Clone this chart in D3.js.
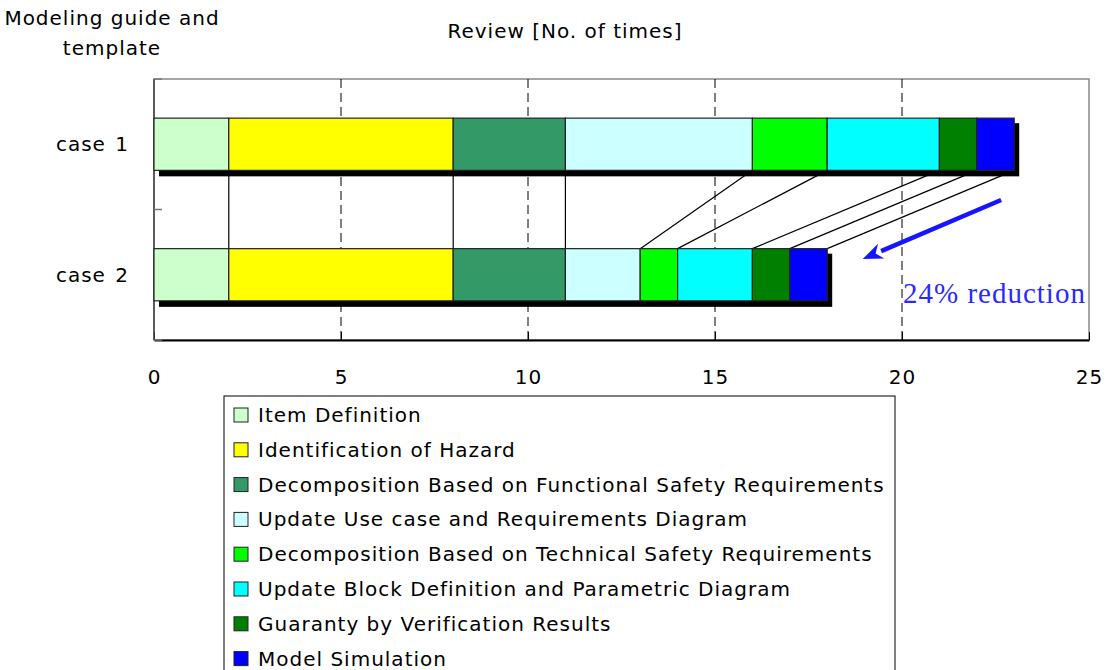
<!DOCTYPE html>
<html>
<head>
<meta charset="utf-8">
<script src="https://cdn.jsdelivr.net/npm/d3@7"></script>
<style>
  body { margin: 0; background: #fff; }
  svg text { font-family: "DejaVu Sans", sans-serif; fill: #000; letter-spacing: 1px; }
</style>
</head>
<body>
<svg id="chart"></svg>
<script>
// Review counts per step, two cases
const cases = ["case 1", "case 2"];
const steps = [
    "Item Definition",
    "Identification of Hazard",
    "Decomposition Based on Functional Safety Requirements",
    "Update Use case and Requirements Diagram",
    "Decomposition Based on Technical Safety Requirements",
    "Update Block Definition and Parametric Diagram",
    "Guaranty by Verification Results",
    "Model Simulation"
];
const case1 = [2, 6, 3, 5, 2, 3, 1, 1];
const case2 = [2, 6, 3, 2, 1, 2, 1, 1];
const stepColors = ["#CCFFCC", "#FFFF00", "#339966", "#CCFFFF", "#00FF00", "#00FFFF", "#008000", "#0000FF"];
const xTicks = [0, 5, 10, 15, 20, 25];

const width = 1107,
    height = 670;

const svg = d3.select("#chart")
    .attr("width", width)
    .attr("height", height);

const x = d3.scaleLinear().domain([0, 25]).range([154, 1089]);
const y = d3.scaleBand().domain(cases).range([79, 340]).paddingInner(0.6).paddingOuter(0.3);
const yBand = d3.scaleBand().domain(cases).range([79, 340]);

// stack the values
function stackUp(vals) {
    let acc = 0;
    return vals.map((v, i) => {
        const s = { step: i, x0: acc, x1: acc + v };
        acc += v;
        return s;
    });
}
const rows = [stackUp(case1), stackUp(case2)];

// plot frame
svg.append("rect")
    .attr("x", x(0)).attr("y", 79)
    .attr("width", x(25) - x(0)).attr("height", 340 - 79)
    .attr("fill", "none").attr("stroke", "#888").attr("stroke-width", 1.5);

// dashed grid
svg.selectAll(".grid")
    .data(xTicks.slice(1, -1))
    .enter()
    .append("line")
    .attr("x1", d => x(d)).attr("x2", d => x(d))
    .attr("y1", 79).attr("y2", 340)
    .attr("stroke", "#000").attr("stroke-width", 1)
    .attr("stroke-dasharray", "9,5");

// x axis
const xAxis = svg.append("g")
    .attr("transform", "translate(0,340)")
    .call(d3.axisBottom(x).tickValues(xTicks).tickSizeInner(-8).tickSizeOuter(0).tickPadding(30));
xAxis.select(".domain").attr("stroke", "#000").attr("stroke-width", 2);
xAxis.selectAll("text").style("font-size", "20px").style("font-family", "'DejaVu Sans', sans-serif").attr("fill", "#000");

// y axis
const yAxis = svg.append("g")
    .attr("transform", "translate(154,0)");
yAxis.append("line")
    .attr("y1", 79).attr("y2", 340)
    .attr("stroke", "#444").attr("stroke-width", 1.5);
yAxis.selectAll(".ytick")
    .data([79, yBand("case 2"), 340])
    .enter()
    .append("line")
    .attr("x1", 0).attr("x2", 8)
    .attr("y1", d => d).attr("y2", d => d)
    .attr("stroke", "#777").attr("stroke-width", 1.5);
yAxis.selectAll(".ylabel")
    .data(cases)
    .enter()
    .append("text")
    .attr("x", -25)
    .attr("y", d => y(d) + y.bandwidth() / 2)
    .attr("dy", "0.35em")
    .attr("text-anchor", "end")
    .style("font-size", "20px")
    .style("word-spacing", "2px")
    .text(d => d);

// connector lines between case 1 and case 2 step boundaries
const links = rows[0].map((s, i) => ({ from: s.x1, to: rows[1][i].x1 }));
svg.selectAll(".link")
    .data(links)
    .enter()
    .append("line")
    .attr("x1", d => x(d.from))
    .attr("y1", y("case 1") + y.bandwidth())
    .attr("x2", d => x(d.to))
    .attr("y2", y("case 2"))
    .attr("stroke", "#000").attr("stroke-width", 1.2);

// shadows + bars
rows.forEach((row, r) => {
    const c = cases[r];
    const total = row[row.length - 1].x1;
    svg.append("rect")
        .attr("x", x(0) + 5).attr("y", y(c) + 5)
        .attr("width", x(total) - x(0)).attr("height", y.bandwidth() + 1)
        .attr("fill", "#000");
    svg.selectAll(".bar" + r)
        .data(row)
        .enter()
        .append("rect")
        .attr("x", d => x(d.x0))
        .attr("y", y(c))
        .attr("width", d => x(d.x1) - x(d.x0))
        .attr("height", y.bandwidth())
        .attr("fill", d => stepColors[d.step])
        .attr("stroke", "#222")
        .attr("stroke-width", 1.2);
});

// reduction arrow + note
const arrow = { x1: 22.65, x2: 18.95 };
const ay1 = 200, ay2 = 259;
const ang = Math.atan2(ay2 - ay1, x(arrow.x2) - x(arrow.x1));
const headLen = 20, headW = 8;
const bx = x(arrow.x2) - headLen * Math.cos(ang),
    by = ay2 - headLen * Math.sin(ang);
svg.append("line")
    .attr("x1", x(arrow.x1)).attr("y1", ay1)
    .attr("x2", bx).attr("y2", by)
    .attr("stroke", "#1515ff").attr("stroke-width", 4.5);
svg.append("path")
    .attr("d", `M${x(arrow.x2)},${ay2} L${bx - headW * Math.sin(ang)},${by + headW * Math.cos(ang)} L${bx + 0.3 * headLen * Math.cos(ang)},${by + 0.3 * headLen * Math.sin(ang)} L${bx + headW * Math.sin(ang)},${by - headW * Math.cos(ang)} Z`)
    .attr("fill", "#1515ff");
svg.append("text")
    .attr("x", 903).attr("y", 303)
    .style("font-family", "'Liberation Serif', serif")
    .style("font-size", "29px")
    .style("letter-spacing", "1px")
    .style("fill", "#2a2aff")
    .text("24% reduction");

// titles
svg.append("text")
    .attr("x", 565).attr("y", 38)
    .attr("text-anchor", "middle")
    .style("font-size", "20px")
    .text("Review [No. of times]");
svg.append("text")
    .attr("x", 112).attr("y", 25)
    .attr("text-anchor", "middle")
    .style("font-size", "20px")
    .text("Modeling guide and");
svg.append("text")
    .attr("x", 112).attr("y", 55)
    .attr("text-anchor", "middle")
    .style("font-size", "20px")
    .text("template");

// legend
const legend = svg.append("g").attr("transform", "translate(224,396)");
legend.append("rect")
    .attr("x", 0).attr("y", 0)
    .attr("width", 671).attr("height", 290)
    .attr("fill", "#fff").attr("stroke", "#000").attr("stroke-width", 1);
const li = legend.selectAll(".item")
    .data(steps)
    .enter()
    .append("g")
    .attr("transform", (d, i) => `translate(10,${19 + i * 34.8})`);
li.append("rect")
    .attr("x", 0).attr("y", -7)
    .attr("width", 14).attr("height", 14)
    .attr("fill", (d, i) => stepColors[i])
    .attr("stroke", "#222").attr("stroke-width", 1);
li.append("text")
    .attr("x", 24).attr("y", 0)
    .attr("dy", "0.35em")
    .style("font-size", "20px")
    .text(d => d);
</script>
</body>
</html>
